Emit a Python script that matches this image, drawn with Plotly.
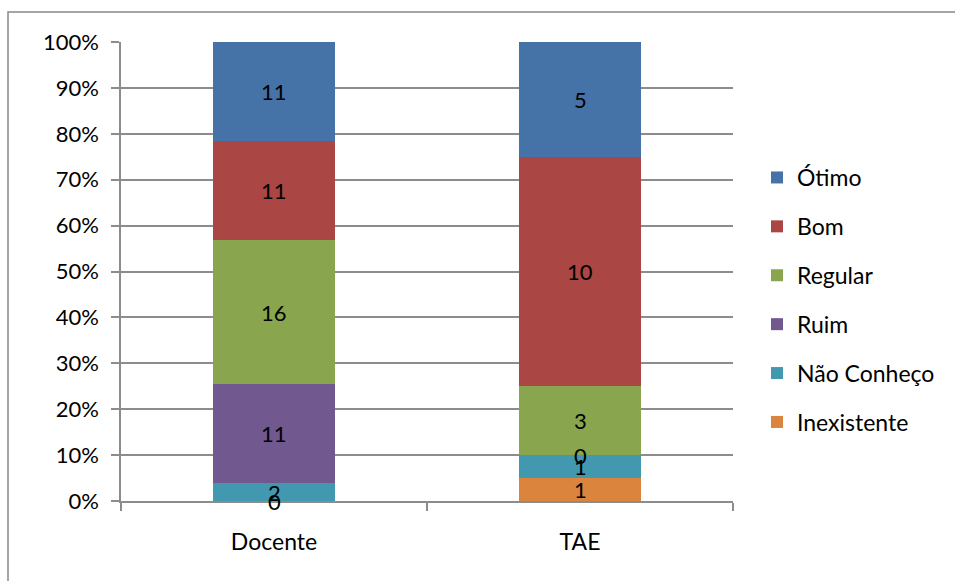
import plotly.graph_objects as go

# Survey answers per group (counts), stacked as shares of each bar
categories = ["Docente", "TAE"]
series_names = ["Inexistente", "Não Conheço", "Ruim", "Regular", "Bom", "Ótimo"]
inexistente = [0, 1]
nao_conheco = [2, 1]
ruim = [11, 0]
regular = [16, 3]
bom = [11, 10]
otimo = [11, 5]
y_ticks = [0, 10, 20, 30, 40, 50, 60, 70, 80, 90, 100]

series_values = [inexistente, nao_conheco, ruim, regular, bom, otimo]
colors = ["#DB843D", "#4198AF", "#71588F", "#89A54E", "#AA4643", "#4572A7"]

FONT = "Lato, 'Open Sans', Arial, sans-serif"
GRID = "#8C8C8C"

fig = go.Figure()
n = len(series_names)
for k, (name, vals, col) in enumerate(zip(series_names, series_values, colors)):
    fig.add_trace(go.Bar(
        x=categories, y=vals, name=name, marker_color=col,
        marker_line_width=0, legendgroup=name, width=0.4,
        legendrank=1000 + (n - k),  # top segment listed first
    ))

# Count labels centred on each segment (zero counts included)
totals = [sum(v[i] for v in series_values) for i in range(len(categories))]
annotations = []
for i, cat in enumerate(categories):
    base = 0.0
    for vals in series_values:
        share = vals[i] / totals[i] * 100
        annotations.append(dict(
            x=cat, y=base + share / 2, xref="x", yref="y",
            text=str(vals[i]), showarrow=False,
            font=dict(family=FONT, size=22, color="#000000"),
        ))
        base += share

# Plot area spans pixels 121..733 horizontally and 42..501 vertically
pw, ph = 612.0, 459.0
def px_x(p):
    return (p - 121) / pw
def px_y(p):
    return (501 - p) / ph

fig.update_layout(
    width=955, height=581,
    margin=dict(l=121, r=222, t=42, b=80),
    barmode="stack", barnorm="percent",
    paper_bgcolor="white", plot_bgcolor="white",
    font=dict(family=FONT, size=22, color="#000000"),
    showlegend=True,
    legend=dict(
        x=px_x(757), y=px_y(300), xanchor="left", yanchor="middle",
        traceorder="grouped", tracegroupgap=16,
        font=dict(family=FONT, size=23, color="#000000"),
        bgcolor="rgba(0,0,0,0)", itemwidth=30,
    ),
    xaxis=dict(
        range=[-0.5, 1.5], tickson="boundaries", ticks="outside", ticklen=8,
        tickcolor=GRID, tickwidth=1.5, showline=True, linecolor=GRID,
        linewidth=1.5, showgrid=False, ticklabelstandoff=20,
        tickfont=dict(family=FONT, size=23),
    ),
    yaxis=dict(
        range=[0, 100], tickmode="array", tickvals=y_ticks,
        ticktext=[f"{v}%" for v in y_ticks],
        ticks="outside", ticklen=8, tickcolor=GRID, tickwidth=1.5,
        showgrid=True, gridcolor=GRID, gridwidth=1.5,
        showline=True, linecolor=GRID, linewidth=1.5,
        zeroline=False, ticklabelstandoff=8,
        tickfont=dict(family=FONT, size=22),
    ),
    annotations=annotations,
    shapes=[dict(
        type="rect", xref="paper", yref="paper",
        x0=px_x(8), x1=px_x(1010), y0=px_y(620), y1=px_y(12),
        line=dict(color="#888888", width=1.5), layer="below",
    )],
)

fig.write_html("out.html")
